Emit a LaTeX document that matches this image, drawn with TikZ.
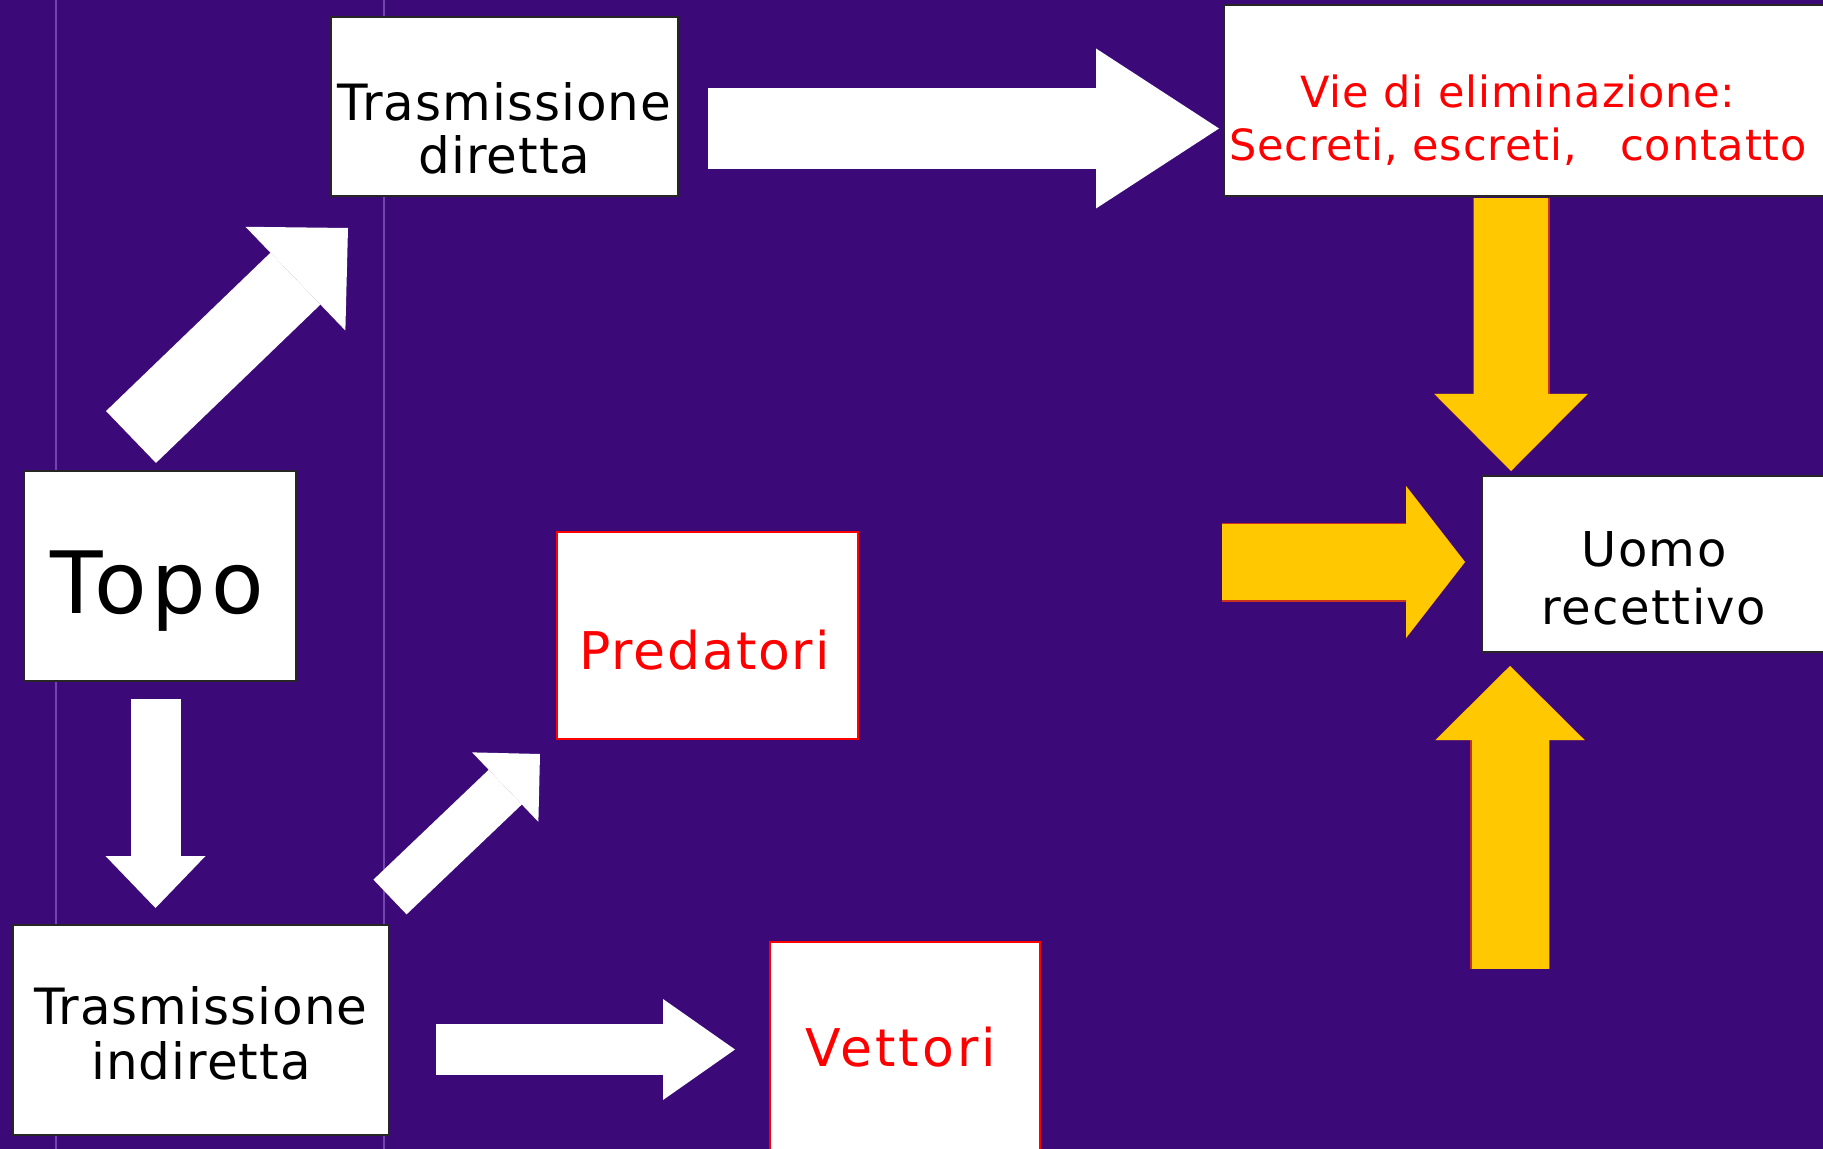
\documentclass[tikz,border=0pt]{standalone}
\usepackage{fontspec}
\setmainfont[LetterSpace=2]{DejaVu Sans}
\usetikzlibrary{arrows.meta}
\definecolor{bgpurple}{RGB}{60,10,120}
\definecolor{arrowyellow}{RGB}{255,200,0}
\definecolor{arrowrim}{RGB}{200,50,30}
\definecolor{scanline}{RGB}{150,110,210}
\tikzset{
box/.style 2 args={rectangle, draw=black!85, fill=white, line width=0.75pt, inner sep=0pt, minimum width=#1, minimum height=#2}, % white boxes
txt/.style={align=center, inner sep=0pt}, % the texts in the boxes
fat/.style n args={3}{line width=#1, -{Triangle[line width=0pt, width=#2, length=#3]}}, % block arrows: shaft, head width, head length
rimmed/.style n args={3}{preaction={draw=arrowrim, line width=#1+1.5pt, -{Triangle[line width=1.5pt, width=#2, length=#3]}}, arrowyellow, fat={#1}{#2}{#3}}, % yellow arrows with a thin red edge
scan/.style={scanline, line width=0.8pt, opacity=0.6}, % faint vertical lines of the background
}
\begin{document}
\begin{tikzpicture}[x=0.5pt, y=-0.5pt]
    \fill[bgpurple] (0,0) rectangle (1823,1149);
    \useasboundingbox (0,0) rectangle (1823,1149);
    \clip (0,0) rectangle (1823,1149);
    \draw[scan] (56,0) -- (56,1149) (384,0) -- (384,1149);

    % boxes
    \node[box={136pt}{105pt}] (topo) at (160,576) {};
    \node[box={173.5pt}{89.5pt}] (diretta) at (504.5,106.5) {};
    \node[box={308pt}{95.5pt}] (vie) at (1532,100.5) {};
    \node[box={179pt}{88pt}] (uomo) at (1661,564) {};
    \node[box={150.5pt}{103.5pt}, draw=red] (predatori) at (707.5,635.5) {};
    \node[box={188pt}{105pt}] (indiretta) at (201,1030) {};
    \node[box={135pt}{109pt}, draw=red] (vettori) at (905,1051) {};

    % texts
    \node[txt, font=\fontsize{43}{50}\selectfont\addfontfeatures{LetterSpace=6}] (topo-txt) at ([shift={(-2.5,15)}]topo.center) {Topo};
    \node[txt, font=\fontsize{25}{26.5}\selectfont] (diretta-txt) at ([shift={(0,21.5)}]diretta.center) {Trasmissione\\diretta};
    \node[txt, red, font=\fontsize{21.5}{26.5}\selectfont] (vie-txt) at ([shift={(-14,19.5)}]vie.center) {Vie di eliminazione:\\Secreti, escreti,\ \ \ contatto};
    \node[txt, font=\fontsize{24}{29}\selectfont\addfontfeatures{LetterSpace=3}] (uomo-txt) at ([shift={(-7,14.5)}]uomo.center) {Uomo\\recettivo};
    \node[txt, red, font=\fontsize{26}{30}\selectfont\addfontfeatures{LetterSpace=3.5}] (predatori-txt) at ([shift={(-3,15)}]predatori.center) {Predatori};
    \node[txt, font=\fontsize{25}{27.5}\selectfont] (indiretta-txt) at ([shift={(0,3)}]indiretta.center) {Trasmissione\\indiretta};
    \node[txt, red, font=\fontsize{26}{30}\selectfont\addfontfeatures{LetterSpace=6}] (vettori-txt) at ([shift={(-4,-3.5)}]vettori.center) {Vettori};

    % arrow ends
    \coordinate (topo-up) at (131,437);
    \coordinate (diretta-in) at (348,228);
    \coordinate (diretta-out) at (708,128.5);
    \coordinate (vie-in) at (1219,128.5);
    \coordinate (vie-out) at (1511,198);
    \coordinate (uomo-top) at (1511,471);
    \coordinate (uomo-left-start) at (1222,562);
    \coordinate (uomo-left) at (1465,562);
    \coordinate (uomo-low-start) at (1510,969);
    \coordinate (uomo-bottom) at (1510,666);
    \coordinate (topo-down) at (155.5,699);
    \coordinate (indiretta-in) at (155.5,908);
    \coordinate (indiretta-up) at (390,897);
    \coordinate (predatori-in) at (540,754);
    \coordinate (indiretta-out) at (436,1049.5);
    \coordinate (vettori-in) at (735,1049.5);

    % arrows
    \draw[white, fat={36pt}{72pt}{36.5pt}] (topo-up) -- (diretta-in);
    \draw[white, fat={40.5pt}{80pt}{61.5pt}] (diretta-out) -- (vie-in);
    \draw[white, fat={25pt}{50pt}{26pt}] (topo-down) -- (indiretta-in);
    \draw[white, fat={24pt}{48pt}{24pt}] (indiretta-up) -- (predatori-in);
    \draw[white, fat={25.5pt}{50.5pt}{36pt}] (indiretta-out) -- (vettori-in);
    \draw[rimmed={37pt}{76.5pt}{38.5pt}] (vie-out) -- (uomo-top);
    \draw[rimmed={38pt}{76pt}{29.5pt}] (uomo-left-start) -- (uomo-left);
    \draw[rimmed={38.5pt}{74.5pt}{37pt}] (uomo-low-start) -- (uomo-bottom);
\end{tikzpicture}
\end{document}
